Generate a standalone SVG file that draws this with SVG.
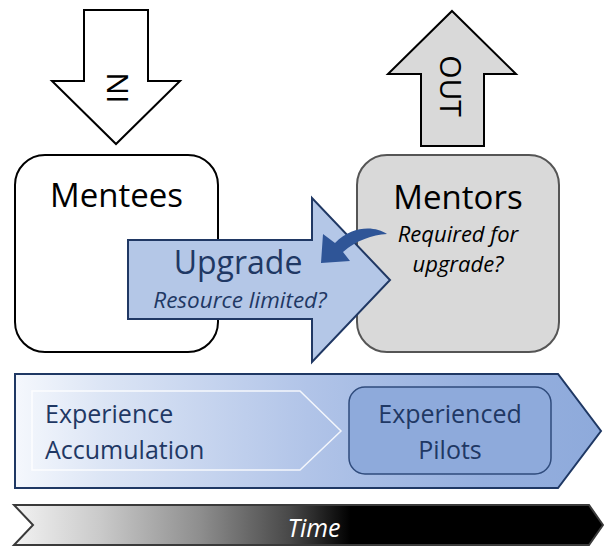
<svg xmlns="http://www.w3.org/2000/svg" width="604" height="547" viewBox="0 0 604 547">
  <style>
    .lbl { font-family: "Open Sans", "Liberation Sans", sans-serif; }
    .it { font-style: italic; }
    .dark { fill: #000000; }
    .navy { fill: #1f3864; }
    .flow { stroke: #000000; stroke-width: 2; stroke-linejoin: miter; }
  </style>
  <defs>
    <linearGradient id="gradExperience" gradientUnits="userSpaceOnUse" x1="15" y1="0" x2="601" y2="0">
      <stop offset="0" stop-color="#f5f8fd"/>
      <stop offset="0.15" stop-color="#dce5f5"/>
      <stop offset="0.5" stop-color="#b1c4e8"/>
      <stop offset="0.8" stop-color="#95afde"/>
      <stop offset="1" stop-color="#8eaadb"/>
    </linearGradient>
    <linearGradient id="gradTime" gradientUnits="userSpaceOnUse" x1="15" y1="0" x2="604" y2="0">
      <stop offset="0" stop-color="#f2f2f2"/>
      <stop offset="0.144" stop-color="#cacaca"/>
      <stop offset="0.314" stop-color="#8e8e8e"/>
      <stop offset="0.467" stop-color="#484848"/>
      <stop offset="0.57" stop-color="#000000"/>
      <stop offset="1" stop-color="#000000"/>
    </linearGradient>
  </defs>

  <!-- Inflow arrow -->
  <g id="in-arrow">
    <polygon class="flow" fill="#ffffff" points="84,10 148,10 148,81 180,81 116,144 52,81 84,81"/>
    <text class="lbl dark" font-size="30" text-anchor="middle" transform="translate(117,88) rotate(-90)" dy="11">IN</text>
  </g>

  <!-- Outflow arrow -->
  <g id="out-arrow">
    <polygon class="flow" fill="#d9d9d9" points="452,11 516,74 484,74 484,146 421,146 421,74 388,74"/>
    <text class="lbl dark" font-size="30" text-anchor="middle" transform="translate(451,86) rotate(90)" dy="11">OUT</text>
  </g>

  <!-- Mentees pool -->
  <g id="mentees">
    <rect x="15" y="155" width="203" height="197" rx="30" ry="30" fill="#ffffff" stroke="#000000" stroke-width="2"/>
    <text class="lbl dark" x="116.5" y="207" font-size="33" text-anchor="middle">Mentees</text>
  </g>

  <!-- Mentors pool -->
  <g id="mentors">
    <rect x="357" y="155" width="202" height="197" rx="30" ry="30" fill="#d9d9d9" stroke="#555555" stroke-width="2"/>
    <text class="lbl dark" x="458" y="209" font-size="33" text-anchor="middle">Mentors</text>
    <text class="lbl it dark" x="458" y="242" font-size="22" text-anchor="middle">Required for</text>
    <text class="lbl it dark" x="458" y="272" font-size="22" text-anchor="middle">upgrade?</text>
  </g>

  <!-- Upgrade flow -->
  <g id="upgrade">
    <polygon fill="#b4c7e7" stroke="#203864" stroke-width="2" points="128,240 312,240 312,198 390,280 312,362 312,319 128,319"/>
    <text class="lbl navy" x="238" y="274" font-size="32" text-anchor="middle">Upgrade</text>
    <text class="lbl it navy" x="240" y="308" font-size="22.5" text-anchor="middle">Resource limited?</text>
  </g>

  <!-- Connectors -->
  <g id="connectors">
    <path fill="#2f5597" d="M 387,234 C 375,226 353,225 335,243 L 323,234 L 321,263 L 350,261 L 343,252 C 357,240 372,235 387,234 Z"/>
  </g>

  <!-- Experience band -->
  <g id="experience-band">
    <polygon fill="url(#gradExperience)" stroke="#1f3864" stroke-width="2" points="15,374 558,374 601,431 558,488 15,488"/>
    <polygon fill="none" stroke="#ffffff" stroke-opacity="0.85" stroke-width="1.5" points="32,391 300,391 341,431 300,470 32,470"/>
    <text class="lbl navy" x="45" y="423" font-size="25">Experience</text>
    <text class="lbl navy" x="45" y="459" font-size="25">Accumulation</text>
  </g>

  <g id="experienced-pilots">
    <rect x="349" y="387" width="202" height="87" rx="16" ry="16" fill="#8eaadb" stroke="#2f4b7c" stroke-width="1.5"/>
    <text class="lbl navy" x="450" y="423" font-size="25" text-anchor="middle">Experienced</text>
    <text class="lbl navy" x="450" y="459" font-size="25" text-anchor="middle">Pilots</text>
  </g>

  <!-- Time axis -->
  <g id="time">
    <polygon fill="url(#gradTime)" stroke="#3a3a3a" stroke-width="2" points="14,505 589,505 603,525 589,545 14,545 33,525"/>
    <text class="lbl it" fill="#ffffff" x="314" y="537" font-size="25" text-anchor="middle">Time</text>
  </g>
</svg>
